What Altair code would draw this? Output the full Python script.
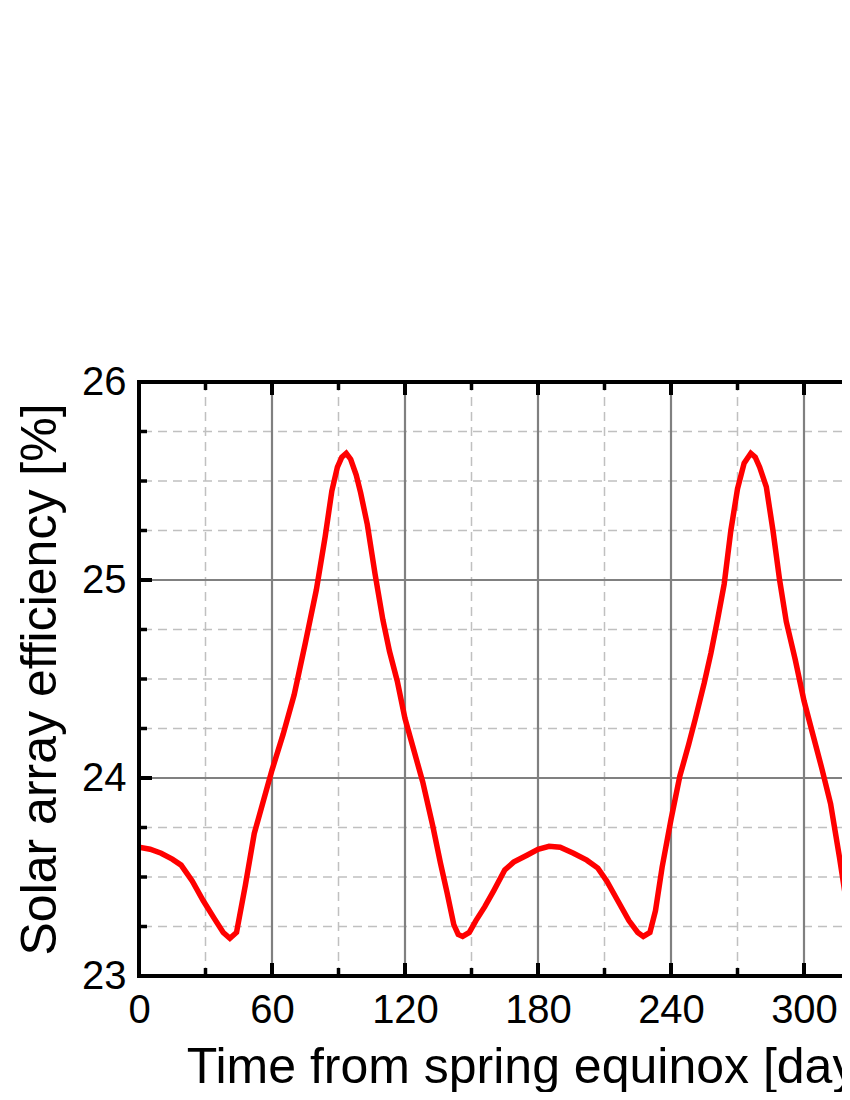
import altair as alt
import pandas as pd

# ---- data ----
days = [0, 5, 10, 15, 19, 24, 29, 34, 38, 41, 44, 48, 52, 56, 60, 65, 70, 75, 80, 84,
        87, 89.5, 91.5, 93.5, 95.5, 98, 100, 103, 106.5, 110, 113, 116.5, 120, 124, 128,
        132.5, 136, 139, 142, 144, 146, 149, 152, 156, 160, 165, 169, 175, 180, 185, 190,
        196, 202, 207, 211, 216, 221, 225, 227.5, 230.5, 233, 236, 240, 244, 248, 251,
        255, 258, 261, 264, 267, 270, 273, 276, 278, 280, 283, 286, 289, 292, 296, 300,
        304, 308, 312, 316, 320, 323, 326, 330, 335, 340, 345, 350, 355, 360, 365]
efficiency = [23.65, 23.64, 23.62, 23.59, 23.56, 23.48, 23.38, 23.29, 23.22, 23.19, 23.22,
              23.46, 23.72, 23.88, 24.04, 24.22, 24.42, 24.68, 24.95, 25.22, 25.45, 25.57,
              25.62, 25.64, 25.61, 25.53, 25.44, 25.28, 25.03, 24.80, 24.64, 24.49, 24.30,
              24.14, 23.98, 23.76, 23.57, 23.42, 23.26, 23.21, 23.20, 23.22, 23.28, 23.35,
              23.43, 23.535, 23.575, 23.61, 23.64, 23.655, 23.65, 23.62, 23.585, 23.545,
              23.48, 23.38, 23.28, 23.22, 23.20, 23.22, 23.33, 23.55, 23.79, 24.01, 24.17,
              24.30, 24.48, 24.63, 24.80, 24.98, 25.25, 25.46, 25.59, 25.64, 25.62, 25.57,
              25.47, 25.25, 25.0, 24.79, 24.60, 24.39, 24.22, 24.05, 23.87, 23.60, 23.31,
              23.21, 23.22, 23.35, 23.46, 23.53, 23.58, 23.61, 23.635, 23.645, 23.65]

x_labels = [0, 60, 120, 180, 240, 300]
x_major = [60, 120, 180, 240, 300]
x_minor = [30, 90, 150, 210, 270]
y_labels = [23, 24, 25, 26]
y_major = [24, 25]
y_minor = [23.25, 23.5, 23.75, 24.25, 24.5, 24.75, 25.25, 25.5, 25.75]

X_TITLE = "Time from spring equinox [days]"
Y_TITLE = "Solar array efficiency [%]"

# ---- layout / style ----
PX_PER_DAY = 133 / 60.0
W, H = 703, 594            # visible part of the plot (it runs off the right edge)
X_MAX = W / PX_PER_DAY
FONT = "Liberation Sans"
xs = alt.Scale(domain=[0, X_MAX], nice=False, zero=False)
ys = alt.Scale(domain=[23, 26], nice=False, zero=False)
MAJOR_GRID = "#808080"
MINOR_GRID = "#c0c0c0"

X_AXIS = alt.Axis(values=x_labels, title=X_TITLE, grid=False, ticks=False, tickSize=0,
                  domain=False, labelFontSize=40, labelPadding=14, labelFlush=False,
                  labelOverlap=False, titleFontSize=50, titlePadding=12,
                  titleX=402, labelFont=FONT, titleFont=FONT, labelColor="black",
                  titleColor="black", titleFontWeight="normal")
Y_AXIS = alt.Axis(values=y_labels, title=Y_TITLE, grid=False, ticks=False, tickSize=0,
                  domain=False, labelFontSize=40, labelPadding=13, labelFlush=False,
                  labelOverlap=False, titleFontSize=50, titlePadding=16,
                  labelFont=FONT, titleFont=FONT, labelColor="black",
                  titleColor="black", titleFontWeight="normal")


def X(field="day"):
    return alt.X(f"{field}:Q", scale=xs, axis=X_AXIS)


def Y(field="eff"):
    return alt.Y(f"{field}:Q", scale=ys, axis=Y_AXIS)


def vrules(vals, **mk):
    return alt.Chart(pd.DataFrame({"day": vals})).mark_rule(clip=True, **mk).encode(x=X())


def hrules(vals, **mk):
    return alt.Chart(pd.DataFrame({"eff": vals})).mark_rule(clip=True, **mk).encode(y=Y())


def xticks(vals, length, width, top):
    y0, y1 = (0, length) if top else (H, H - length)
    return alt.Chart(pd.DataFrame({"day": vals})).mark_rule(
        color="black", strokeWidth=width, clip=True).encode(
        x=X(), y=alt.value(y0), y2=alt.value(y1))


def yticks(vals, length, width):
    return alt.Chart(pd.DataFrame({"eff": vals})).mark_rule(
        color="black", strokeWidth=width).encode(
        y=Y(), x=alt.value(0), x2=alt.value(length))


minor_v = vrules(x_minor, color=MINOR_GRID, strokeWidth=1.5, strokeDash=[9, 6])
minor_h = hrules(y_minor, color=MINOR_GRID, strokeWidth=1.5, strokeDash=[9, 6])
major_v = vrules(x_major, color=MAJOR_GRID, strokeWidth=2.2)
major_h = hrules(y_major, color=MAJOR_GRID, strokeWidth=2.2)

curve = alt.Chart(pd.DataFrame({"day": days, "eff": efficiency})).mark_line(
    color="#ff0000", strokeWidth=5.5, clip=True).encode(x=X(), y=Y())

ticks = [
    xticks(x_major, 13, 4, False), xticks(x_minor, 8, 3.5, False),
    xticks(x_major, 13, 4, True), xticks(x_minor, 8, 3.5, True),
    yticks(y_major, 13, 4), yticks(y_minor, 8, 3.5),
]

# frame: left, top and bottom edges (the right edge lies off the page)
frame_left = alt.Chart(pd.DataFrame({"eff": [23, 26]})).mark_rule(
    color="black", strokeWidth=4).encode(
    x=alt.value(0), y=alt.value(-2), y2=alt.value(H + 2))
frame_top = alt.Chart(pd.DataFrame({"day": [0]})).mark_rule(
    color="black", strokeWidth=4).encode(
    y=alt.value(0), x=alt.value(-2), x2=alt.value(W))
frame_bottom = alt.Chart(pd.DataFrame({"day": [0]})).mark_rule(
    color="black", strokeWidth=4).encode(
    y=alt.value(H), x=alt.value(-2), x2=alt.value(W))

chart = alt.layer(minor_v, minor_h, major_v, major_h, curve, *ticks,
                  frame_left, frame_top, frame_bottom).properties(
    width=W, height=H,
    padding={"left": 131, "top": 374, "right": 0, "bottom": 116},
    autosize=alt.AutoSizeParams(type="none"),
    background="white",
).configure_view(stroke=None)

chart.save("out.html", embed_options={"renderer": "svg", "actions": False})
